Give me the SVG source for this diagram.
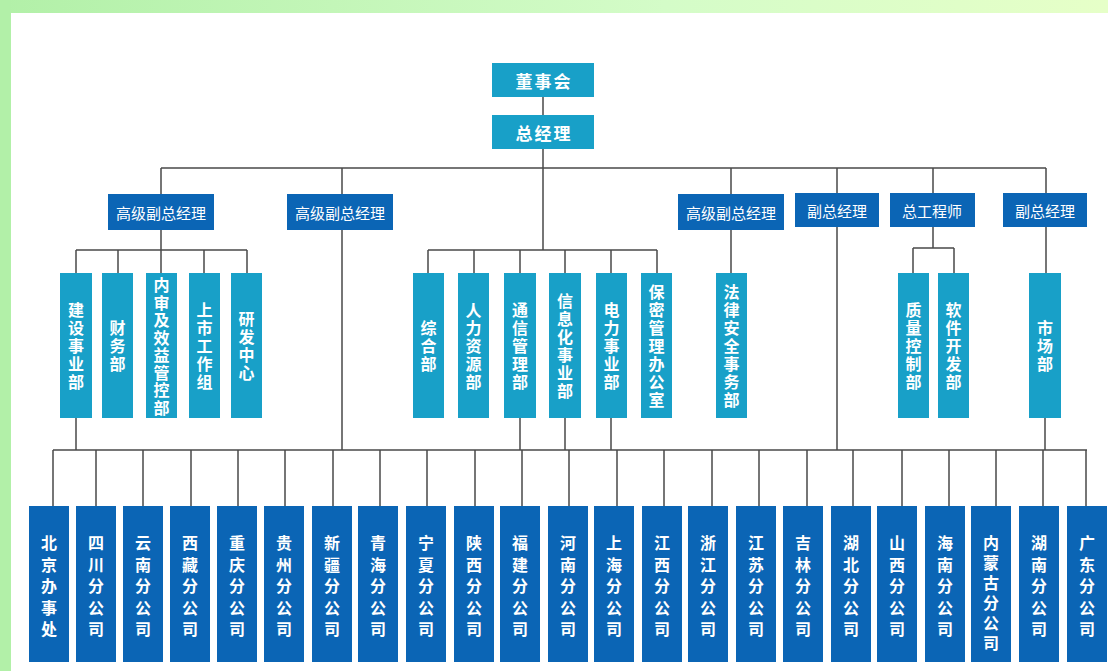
<svg xmlns="http://www.w3.org/2000/svg" width="1108" height="671" viewBox="0 0 1108 671">
<defs>
<linearGradient id="topg" x1="0" y1="0" x2="1" y2="0">
<stop offset="0" stop-color="#b2f0a8"/>
<stop offset="0.6" stop-color="#d4fcc8"/>
<stop offset="1" stop-color="#e6ffc8"/>
</linearGradient>
<style>
.c{fill:#18a0c8}
.d{fill:#0b65b5}
.ln{stroke:#4a4a4a;stroke-width:1.5;fill:none}
.t1{font-family:"Noto Sans CJK SC","Noto Sans",sans-serif;font-weight:bold;fill:#fff;font-size:17px;letter-spacing:2px;text-anchor:middle;dominant-baseline:central}
.t2{font-family:"Noto Sans CJK SC","Noto Sans",sans-serif;fill:#fff;font-size:15px;text-anchor:middle;dominant-baseline:central}
.t3{font-family:"Noto Sans CJK SC","Noto Sans",sans-serif;font-weight:bold;fill:#fff;font-size:16px;text-anchor:middle;dominant-baseline:central}
</style>
</defs>
<rect x="0" y="0" width="1108" height="671" fill="#ffffff"/>
<rect x="0" y="0" width="1108" height="13" fill="url(#topg)"/>
<rect x="0" y="0" width="11" height="671" fill="#b2f0a8"/>

<g id="connectors" class="ln">
<path d="M543 97V115M543 149V250M161 168H1046M161 168V194M342 168V194M731 168V194M837 168V193M933 168V193M1046 168V193"/>
<path d="M161 230V250M76 250H247M76 250V273M118 250V273M161 250V273M204 250V273M247 250V273"/>
<path d="M428 250H657M428 250V273M474 250V273M520 250V273M565 250V273M611 250V273M657 250V273"/>
<path d="M731 230V273M933 227V248M913 248H954M913 248V273M954 248V273M1046 227V273"/>
<path d="M342 230V450M837 227V450M76 418V450M520 418V450M565 418V450M611 418V450M1045 418V450"/>
<path d="M53 450H1087M53 450V506M96 450V506M143 450V506M191 450V506M238 450V506M285 450V506M333 450V506M380 450V506M427 450V506M475 450V506M522 450V506M569 450V506M617 450V506M664 450V506M712 450V506M759 450V506M807 450V506M853 450V506M902 450V506M949 450V506M996 450V506M1043 450V506M1086 450V506"/>
</g>

<g id="n-board"><rect class="c" x="492" y="63" width="102" height="34"/><text class="t1" x="544" y="80">董事会</text></g>
<g id="n-gm"><rect class="c" x="492" y="115" width="102" height="34"/><text class="t1" x="544" y="132">总经理</text></g>

<g id="n-svp1"><rect class="d" x="108" y="194" width="106" height="36"/><text class="t2" x="161" y="212">高级副总经理</text></g>
<g id="n-svp2"><rect class="d" x="287" y="194" width="106" height="36"/><text class="t2" x="340" y="212">高级副总经理</text></g>
<g id="n-svp3"><rect class="d" x="678" y="194" width="106" height="36"/><text class="t2" x="731" y="212">高级副总经理</text></g>
<g id="n-vp1"><rect class="d" x="795" y="193" width="84" height="34"/><text class="t2" x="837" y="210">副总经理</text></g>
<g id="n-ce"><rect class="d" x="890" y="193" width="85" height="34"/><text class="t2" x="932" y="210">总工程师</text></g>
<g id="n-vp2"><rect class="d" x="1003" y="193" width="84" height="34"/><text class="t2" x="1045" y="210">副总经理</text></g>

<g id="n-jianshe"><rect class="c" x="60" y="273" width="32" height="145"/><text class="t3" x="76"><tspan x="76" y="309">建</tspan><tspan x="76" y="327">设</tspan><tspan x="76" y="345">事</tspan><tspan x="76" y="363">业</tspan><tspan x="76" y="381">部</tspan></text></g>
<g id="n-caiwu"><rect class="c" x="102" y="273" width="31" height="145"/><text class="t3"><tspan x="117.5" y="327">财</tspan><tspan x="117.5" y="345">务</tspan><tspan x="117.5" y="363">部</tspan></text></g>
<g id="n-neishen"><rect class="c" x="146" y="273" width="31" height="145"/><text class="t3"><tspan x="161.5" y="284">内</tspan><tspan x="161.5" y="301.5">审</tspan><tspan x="161.5" y="319">及</tspan><tspan x="161.5" y="336.5">效</tspan><tspan x="161.5" y="354">益</tspan><tspan x="161.5" y="371.5">管</tspan><tspan x="161.5" y="389">控</tspan><tspan x="161.5" y="406.5">部</tspan></text></g>
<g id="n-shangshi"><rect class="c" x="189" y="273" width="31" height="145"/><text class="t3"><tspan x="204.5" y="309">上</tspan><tspan x="204.5" y="327">市</tspan><tspan x="204.5" y="345">工</tspan><tspan x="204.5" y="363">作</tspan><tspan x="204.5" y="381">组</tspan></text></g>
<g id="n-yanfa"><rect class="c" x="231" y="273" width="31" height="145"/><text class="t3"><tspan x="246.5" y="318">研</tspan><tspan x="246.5" y="336">发</tspan><tspan x="246.5" y="354">中</tspan><tspan x="246.5" y="372">心</tspan></text></g>

<g id="n-zonghe"><rect class="c" x="413" y="273" width="31" height="145"/><text class="t3"><tspan x="428.5" y="327">综</tspan><tspan x="428.5" y="345">合</tspan><tspan x="428.5" y="363">部</tspan></text></g>
<g id="n-renli"><rect class="c" x="458" y="273" width="31" height="145"/><text class="t3"><tspan x="473.5" y="309">人</tspan><tspan x="473.5" y="327">力</tspan><tspan x="473.5" y="345">资</tspan><tspan x="473.5" y="363">源</tspan><tspan x="473.5" y="381">部</tspan></text></g>
<g id="n-tongxin"><rect class="c" x="504" y="273" width="32" height="145"/><text class="t3"><tspan x="520" y="309">通</tspan><tspan x="520" y="327">信</tspan><tspan x="520" y="345">管</tspan><tspan x="520" y="363">理</tspan><tspan x="520" y="381">部</tspan></text></g>
<g id="n-xinxi"><rect class="c" x="549" y="273" width="32" height="145"/><text class="t3"><tspan x="565" y="300">信</tspan><tspan x="565" y="318">息</tspan><tspan x="565" y="336">化</tspan><tspan x="565" y="354">事</tspan><tspan x="565" y="372">业</tspan><tspan x="565" y="390">部</tspan></text></g>
<g id="n-dianli"><rect class="c" x="596" y="273" width="31" height="145"/><text class="t3"><tspan x="611.5" y="309">电</tspan><tspan x="611.5" y="327">力</tspan><tspan x="611.5" y="345">事</tspan><tspan x="611.5" y="363">业</tspan><tspan x="611.5" y="381">部</tspan></text></g>
<g id="n-baomi"><rect class="c" x="641" y="273" width="31" height="145"/><text class="t3"><tspan x="656.5" y="291">保</tspan><tspan x="656.5" y="309">密</tspan><tspan x="656.5" y="327">管</tspan><tspan x="656.5" y="345">理</tspan><tspan x="656.5" y="363">办</tspan><tspan x="656.5" y="381">公</tspan><tspan x="656.5" y="399">室</tspan></text></g>

<g id="n-falv"><rect class="c" x="716" y="273" width="31" height="145"/><text class="t3"><tspan x="731.5" y="291">法</tspan><tspan x="731.5" y="309">律</tspan><tspan x="731.5" y="327">安</tspan><tspan x="731.5" y="345">全</tspan><tspan x="731.5" y="363">事</tspan><tspan x="731.5" y="381">务</tspan><tspan x="731.5" y="399">部</tspan></text></g>
<g id="n-zhiliang"><rect class="c" x="898" y="273" width="31" height="145"/><text class="t3"><tspan x="913.5" y="309">质</tspan><tspan x="913.5" y="327">量</tspan><tspan x="913.5" y="345">控</tspan><tspan x="913.5" y="363">制</tspan><tspan x="913.5" y="381">部</tspan></text></g>
<g id="n-ruanjian"><rect class="c" x="938" y="273" width="31" height="145"/><text class="t3"><tspan x="953.5" y="309">软</tspan><tspan x="953.5" y="327">件</tspan><tspan x="953.5" y="345">开</tspan><tspan x="953.5" y="363">发</tspan><tspan x="953.5" y="381">部</tspan></text></g>
<g id="n-shichang"><rect class="c" x="1029" y="273" width="32" height="145"/><text class="t3"><tspan x="1045" y="327">市</tspan><tspan x="1045" y="345">场</tspan><tspan x="1045" y="363">部</tspan></text></g>

<g id="n-beijing"><rect class="d" x="29" y="506" width="40" height="156"/><text class="t3"><tspan x="49" y="542">北</tspan><tspan x="49" y="563.5">京</tspan><tspan x="49" y="585">办</tspan><tspan x="49" y="606.5">事</tspan><tspan x="49" y="628">处</tspan></text></g>
<g id="n-sichuan"><rect class="d" x="76" y="506" width="40" height="156"/><text class="t3"><tspan x="96" y="542">四</tspan><tspan x="96" y="563.5">川</tspan><tspan x="96" y="585">分</tspan><tspan x="96" y="606.5">公</tspan><tspan x="96" y="628">司</tspan></text></g>
<g id="n-yunnan"><rect class="d" x="123" y="506" width="40" height="156"/><text class="t3"><tspan x="143" y="542">云</tspan><tspan x="143" y="563.5">南</tspan><tspan x="143" y="585">分</tspan><tspan x="143" y="606.5">公</tspan><tspan x="143" y="628">司</tspan></text></g>
<g id="n-xizang"><rect class="d" x="170" y="506" width="40" height="156"/><text class="t3"><tspan x="190" y="542">西</tspan><tspan x="190" y="563.5">藏</tspan><tspan x="190" y="585">分</tspan><tspan x="190" y="606.5">公</tspan><tspan x="190" y="628">司</tspan></text></g>
<g id="n-chongqing"><rect class="d" x="217" y="506" width="40" height="156"/><text class="t3"><tspan x="237" y="542">重</tspan><tspan x="237" y="563.5">庆</tspan><tspan x="237" y="585">分</tspan><tspan x="237" y="606.5">公</tspan><tspan x="237" y="628">司</tspan></text></g>
<g id="n-guizhou"><rect class="d" x="264" y="506" width="40" height="156"/><text class="t3"><tspan x="284" y="542">贵</tspan><tspan x="284" y="563.5">州</tspan><tspan x="284" y="585">分</tspan><tspan x="284" y="606.5">公</tspan><tspan x="284" y="628">司</tspan></text></g>
<g id="n-xinjiang"><rect class="d" x="312" y="506" width="40" height="156"/><text class="t3"><tspan x="332" y="542">新</tspan><tspan x="332" y="563.5">疆</tspan><tspan x="332" y="585">分</tspan><tspan x="332" y="606.5">公</tspan><tspan x="332" y="628">司</tspan></text></g>
<g id="n-qinghai"><rect class="d" x="358" y="506" width="40" height="156"/><text class="t3"><tspan x="378" y="542">青</tspan><tspan x="378" y="563.5">海</tspan><tspan x="378" y="585">分</tspan><tspan x="378" y="606.5">公</tspan><tspan x="378" y="628">司</tspan></text></g>
<g id="n-ningxia"><rect class="d" x="406" y="506" width="40" height="156"/><text class="t3"><tspan x="426" y="542">宁</tspan><tspan x="426" y="563.5">夏</tspan><tspan x="426" y="585">分</tspan><tspan x="426" y="606.5">公</tspan><tspan x="426" y="628">司</tspan></text></g>
<g id="n-shaanxi"><rect class="d" x="454" y="506" width="40" height="156"/><text class="t3"><tspan x="474" y="542">陕</tspan><tspan x="474" y="563.5">西</tspan><tspan x="474" y="585">分</tspan><tspan x="474" y="606.5">公</tspan><tspan x="474" y="628">司</tspan></text></g>
<g id="n-fujian"><rect class="d" x="500" y="506" width="40" height="156"/><text class="t3"><tspan x="520" y="542">福</tspan><tspan x="520" y="563.5">建</tspan><tspan x="520" y="585">分</tspan><tspan x="520" y="606.5">公</tspan><tspan x="520" y="628">司</tspan></text></g>
<g id="n-henan"><rect class="d" x="548" y="506" width="40" height="156"/><text class="t3"><tspan x="568" y="542">河</tspan><tspan x="568" y="563.5">南</tspan><tspan x="568" y="585">分</tspan><tspan x="568" y="606.5">公</tspan><tspan x="568" y="628">司</tspan></text></g>
<g id="n-shanghai"><rect class="d" x="594" y="506" width="40" height="156"/><text class="t3"><tspan x="614" y="542">上</tspan><tspan x="614" y="563.5">海</tspan><tspan x="614" y="585">分</tspan><tspan x="614" y="606.5">公</tspan><tspan x="614" y="628">司</tspan></text></g>
<g id="n-jiangxi"><rect class="d" x="642" y="506" width="40" height="156"/><text class="t3"><tspan x="662" y="542">江</tspan><tspan x="662" y="563.5">西</tspan><tspan x="662" y="585">分</tspan><tspan x="662" y="606.5">公</tspan><tspan x="662" y="628">司</tspan></text></g>
<g id="n-zhejiang"><rect class="d" x="688" y="506" width="40" height="156"/><text class="t3"><tspan x="708" y="542">浙</tspan><tspan x="708" y="563.5">江</tspan><tspan x="708" y="585">分</tspan><tspan x="708" y="606.5">公</tspan><tspan x="708" y="628">司</tspan></text></g>
<g id="n-jiangsu"><rect class="d" x="736" y="506" width="40" height="156"/><text class="t3"><tspan x="756" y="542">江</tspan><tspan x="756" y="563.5">苏</tspan><tspan x="756" y="585">分</tspan><tspan x="756" y="606.5">公</tspan><tspan x="756" y="628">司</tspan></text></g>
<g id="n-jilin"><rect class="d" x="783" y="506" width="40" height="156"/><text class="t3"><tspan x="803" y="542">吉</tspan><tspan x="803" y="563.5">林</tspan><tspan x="803" y="585">分</tspan><tspan x="803" y="606.5">公</tspan><tspan x="803" y="628">司</tspan></text></g>
<g id="n-hubei"><rect class="d" x="831" y="506" width="40" height="156"/><text class="t3"><tspan x="851" y="542">湖</tspan><tspan x="851" y="563.5">北</tspan><tspan x="851" y="585">分</tspan><tspan x="851" y="606.5">公</tspan><tspan x="851" y="628">司</tspan></text></g>
<g id="n-shanxi"><rect class="d" x="877" y="506" width="40" height="156"/><text class="t3"><tspan x="897" y="542">山</tspan><tspan x="897" y="563.5">西</tspan><tspan x="897" y="585">分</tspan><tspan x="897" y="606.5">公</tspan><tspan x="897" y="628">司</tspan></text></g>
<g id="n-hainan"><rect class="d" x="925" y="506" width="40" height="156"/><text class="t3"><tspan x="945" y="542">海</tspan><tspan x="945" y="563.5">南</tspan><tspan x="945" y="585">分</tspan><tspan x="945" y="606.5">公</tspan><tspan x="945" y="628">司</tspan></text></g>
<g id="n-neimenggu"><rect class="d" x="971" y="506" width="40" height="156"/><text class="t3"><tspan x="991" y="542">内</tspan><tspan x="991" y="562">蒙</tspan><tspan x="991" y="582">古</tspan><tspan x="991" y="602">分</tspan><tspan x="991" y="622">公</tspan><tspan x="991" y="642">司</tspan></text></g>
<g id="n-hunan"><rect class="d" x="1019" y="506" width="40" height="156"/><text class="t3"><tspan x="1039" y="542">湖</tspan><tspan x="1039" y="563.5">南</tspan><tspan x="1039" y="585">分</tspan><tspan x="1039" y="606.5">公</tspan><tspan x="1039" y="628">司</tspan></text></g>
<g id="n-guangdong"><rect class="d" x="1067" y="506" width="40" height="156"/><text class="t3"><tspan x="1087" y="542">广</tspan><tspan x="1087" y="563.5">东</tspan><tspan x="1087" y="585">分</tspan><tspan x="1087" y="606.5">公</tspan><tspan x="1087" y="628">司</tspan></text></g>
</svg>
